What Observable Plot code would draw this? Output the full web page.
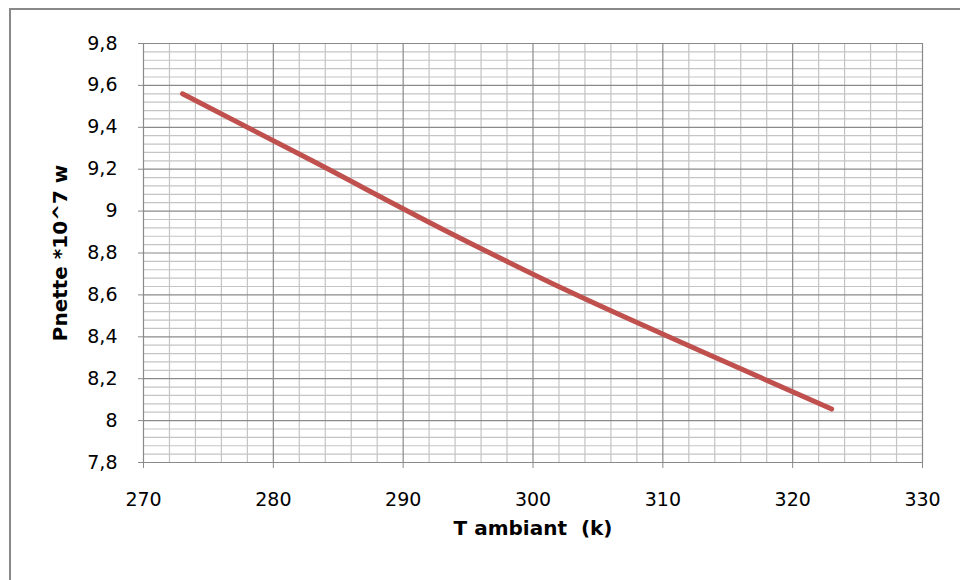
<!DOCTYPE html>
<html>
<head>
<meta charset="utf-8">
<script src="https://cdn.jsdelivr.net/npm/d3@7"></script>
<script src="https://cdn.jsdelivr.net/npm/@observablehq/plot@0.6"></script>
<style>
  html, body { margin: 0; padding: 0; background: #fff; }
  #wrap { position: relative; width: 960px; height: 580px; overflow: hidden; }
  #frame { position: absolute; left: 9px; top: 8px; right: -10px; bottom: -10px;
           border-left: 2px solid #898989; border-top: 2px solid #898989; pointer-events: none; }
</style>
</head>
<body>
<div id="wrap"><div id="frame"></div></div>
<script>
// Data
const temps = [273, 283, 293, 303, 313, 323];
const pnette = [9.56, 9.24, 8.915, 8.61, 8.33, 8.055];
const xTicks = [270, 280, 290, 300, 310, 320, 330];
const yTicks = [7.8, 8.0, 8.2, 8.4, 8.6, 8.8, 9.0, 9.2, 9.4, 9.6, 9.8];
const xMinor = [272, 274, 276, 278, 282, 284, 286, 288, 292, 294, 296, 298, 302, 304, 306, 308,
                312, 314, 316, 318, 322, 324, 326, 328];
const yMinor = yTicks.slice(0, -1).flatMap(v => [1, 2, 3, 4].map(k => Math.round((v + 0.04 * k) * 100) / 100));
const xTitle = "T ambiant  (k)";
const yTitle = "Pnette *10^7 w";

const data = temps.map((t, i) => ({t, p: pnette[i]}));
const fmt = d => String(Math.round(d * 10) / 10).replace(".", ",");

const chart = Plot.plot({
  width: 960,
  height: 580,
  marginLeft: 143,
  marginRight: 38,
  marginTop: 43,
  marginBottom: 118,
  x: {domain: [270, 330]},
  y: {domain: [7.8, 9.8]},
  style: {fontFamily: "'DejaVu Sans', sans-serif", fontSize: "19px", color: "#000", background: "transparent", overflow: "visible"},
  marks: [
    Plot.ruleX(xMinor, {stroke: "#c4c4c4", strokeWidth: 1.2}),
    Plot.ruleY(yMinor, {stroke: "#c4c4c4", strokeWidth: 1.2}),
    Plot.ruleX(xTicks, {stroke: "#8a8a8a", strokeWidth: 1.2}),
    Plot.ruleY(yTicks, {stroke: "#8a8a8a", strokeWidth: 1.2}),
    Plot.axisX({ticks: xTicks, tickSize: 6, tickPadding: 24, label: null, stroke: "#8a8a8a", fill: "#000"}),
    Plot.axisY({ticks: yTicks, tickSize: 5, tickPadding: 21, tickFormat: fmt, label: null, stroke: "#8a8a8a", fill: "#000"}),
    Plot.line(data, {x: "t", y: "p", stroke: "#C0504D", strokeWidth: 5, strokeLinecap: "round", strokeLinejoin: "round", curve: "monotone-x"}),
    Plot.text([xTitle], {frameAnchor: "bottom", dy: 72, fontWeight: "bold", fontSize: 20, fill: "#000", textAnchor: "middle"}),
    Plot.text([yTitle], {frameAnchor: "left", dx: -83, rotate: -90, fontWeight: "bold", fontSize: 20, fill: "#000", textAnchor: "middle"})
  ]
});
document.getElementById("wrap").prepend(chart);
</script>
</body>
</html>
